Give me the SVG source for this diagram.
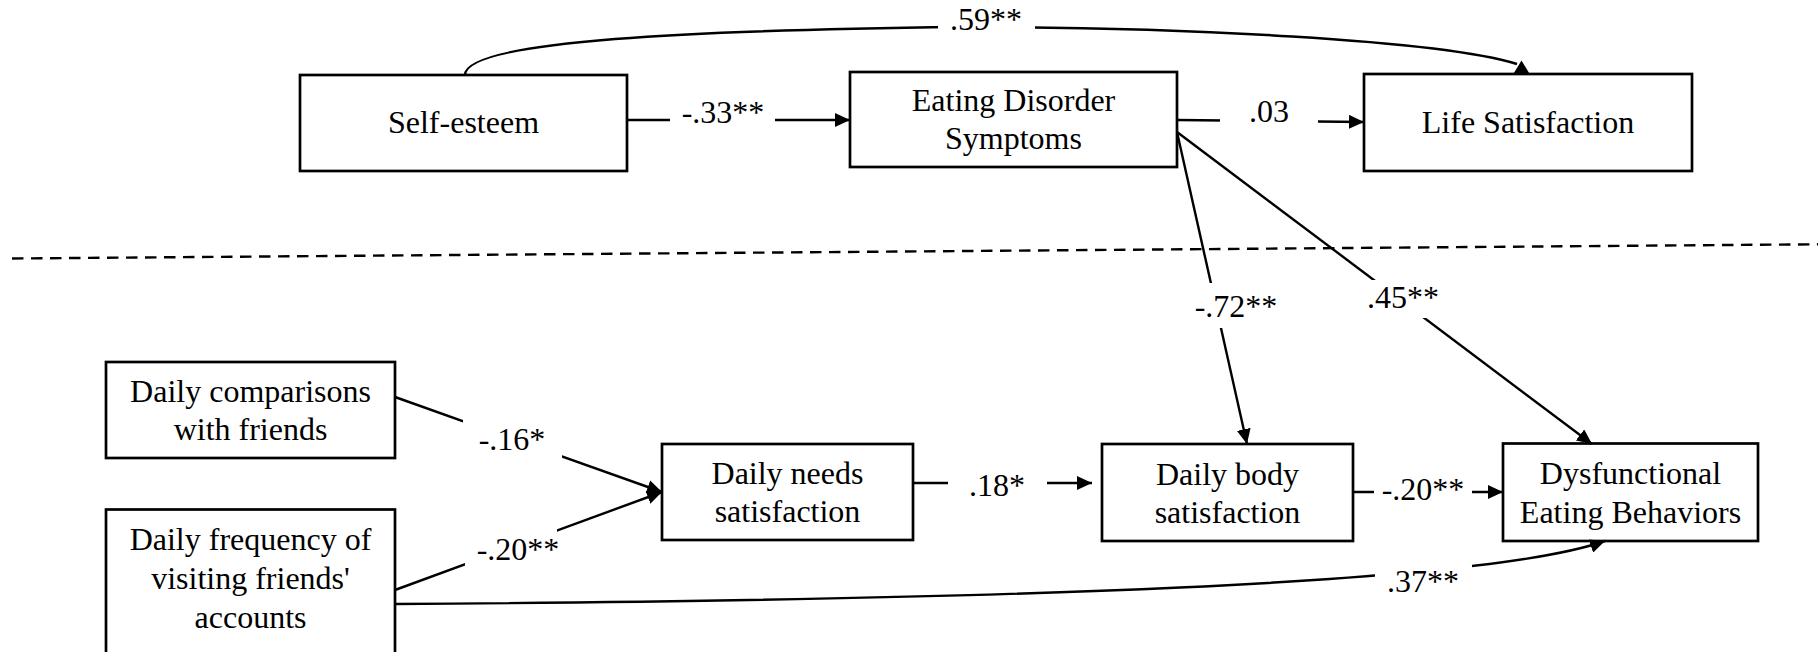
<svg xmlns="http://www.w3.org/2000/svg" width="1818" height="652" viewBox="0 0 1818 652">
<style>
.box{fill:none;stroke:#000;stroke-width:2.7}
.ln{fill:none;stroke:#000;stroke-width:2.4}
.lab{fill:#fff;stroke:none}
.t{font-family:'Liberation Serif','Tinos','Times New Roman','DejaVu Serif',serif;font-size:32px;fill:#000;text-anchor:middle}
</style>
<defs>
<marker id="ah" markerUnits="userSpaceOnUse" markerWidth="16" markerHeight="14" refX="15" refY="7" orient="auto">
<path d="M0,0 L15,7 L0,14 z" fill="#000"/>
</marker>
</defs>
<rect width="1818" height="652" fill="#fff"/>
<line x1="12" y1="258.5" x2="1818" y2="244.3" stroke="#000" stroke-width="2.4" stroke-dasharray="11.5 7.5"/>
<g id="connectors">
<path class="ln" d="M465,75 C465,40 700,30 960,27 C1180,27 1440,40 1517,64"/>
<polygon points="1521.5,60.5 1513,74.5 1530,74.5" fill="#000"/>
<line class="ln" x1="627" y1="120" x2="850" y2="120" marker-end="url(#ah)"/>
<line class="ln" x1="1177" y1="120" x2="1364" y2="122" marker-end="url(#ah)"/>
<line class="ln" x1="1177" y1="132" x2="1247" y2="444" marker-end="url(#ah)"/>
<line class="ln" x1="1177" y1="132" x2="1592" y2="444" marker-end="url(#ah)"/>
<line class="ln" x1="395" y1="397" x2="662" y2="492" marker-end="url(#ah)"/>
<line class="ln" x1="395" y1="590" x2="662" y2="492" marker-end="url(#ah)"/>
<line class="ln" x1="913" y1="483" x2="1092" y2="483" marker-end="url(#ah)"/>
<line class="ln" x1="1353" y1="492" x2="1503" y2="492" marker-end="url(#ah)"/>
<path class="ln" d="M395,604 C1000,600 1480,585 1605,541" marker-end="url(#ah)"/>
<g id="labels" font-family="Liberation Serif, Times New Roman, serif">
<rect class="lab" x="938" y="4" width="97" height="34"/><text class="t" x="986" y="30">.59**</text>
<rect class="lab" x="670" y="100" width="105" height="32"/><text class="t" x="723" y="123">-.33**</text>
<rect class="lab" x="1220" y="98" width="98" height="34"/><text class="t" x="1269" y="122">.03</text>
<rect class="lab" x="1192" y="283" width="89" height="45"/><text class="t" x="1236" y="317">-.72**</text>
<rect class="lab" x="1365" y="280" width="76" height="38"/><text class="t" x="1403" y="308">.45**</text>
<rect class="lab" x="463" y="418" width="99" height="42"/><text class="t" x="512" y="450">-.16*</text>
<rect class="lab" x="465" y="528" width="92" height="38"/><text class="t" x="518" y="560">-.20**</text>
<rect class="lab" x="948" y="468" width="99" height="36"/><text class="t" x="997" y="496">.18*</text>
<rect class="lab" x="1374" y="475" width="98" height="34"/><text class="t" x="1423" y="500">-.20**</text>
<rect class="lab" x="1375" y="560" width="97" height="40"/><text class="t" x="1423" y="592">.37**</text>
</g>
</g>
<g id="self-esteem" font-family="Liberation Serif, Times New Roman, serif">
<rect class="box" x="300" y="75" width="327" height="96"/>
<text class="t" x="463.5" y="133">Self-esteem</text>
</g>
<g id="eating-disorder-symptoms" font-family="Liberation Serif, Times New Roman, serif">
<rect class="box" x="850" y="72" width="327" height="95"/>
<text class="t" x="1013.5" y="111">Eating Disorder</text>
<text class="t" x="1013.5" y="149">Symptoms</text>
</g>
<g id="life-satisfaction" font-family="Liberation Serif, Times New Roman, serif">
<rect class="box" x="1364" y="74" width="328" height="97"/>
<text class="t" x="1528" y="133">Life Satisfaction</text>
</g>
<g id="daily-comparisons" font-family="Liberation Serif, Times New Roman, serif">
<rect class="box" x="106" y="362" width="289" height="96"/>
<text class="t" x="250.5" y="402">Daily comparisons</text>
<text class="t" x="250.5" y="440">with friends</text>
</g>
<g id="daily-frequency" font-family="Liberation Serif, Times New Roman, serif">
<rect class="box" x="106" y="509.5" width="289" height="150"/>
<text class="t" x="250.5" y="550">Daily frequency of</text>
<text class="t" x="250.5" y="588.5">visiting friends'</text>
<text class="t" x="250.5" y="628">accounts</text>
</g>
<g id="daily-needs" font-family="Liberation Serif, Times New Roman, serif">
<rect class="box" x="662" y="444" width="251" height="96"/>
<text class="t" x="787.5" y="483.5">Daily needs</text>
<text class="t" x="787.5" y="522">satisfaction</text>
</g>
<g id="daily-body" font-family="Liberation Serif, Times New Roman, serif">
<rect class="box" x="1102" y="444" width="251" height="97"/>
<text class="t" x="1227.5" y="485">Daily body</text>
<text class="t" x="1227.5" y="523">satisfaction</text>
</g>
<g id="dysfunctional-eating" font-family="Liberation Serif, Times New Roman, serif">
<rect class="box" x="1503" y="443.5" width="255" height="97.5"/>
<text class="t" x="1630.5" y="483.5">Dysfunctional</text>
<text class="t" x="1630.5" y="522.5">Eating Behaviors</text>
</g>
</svg>
